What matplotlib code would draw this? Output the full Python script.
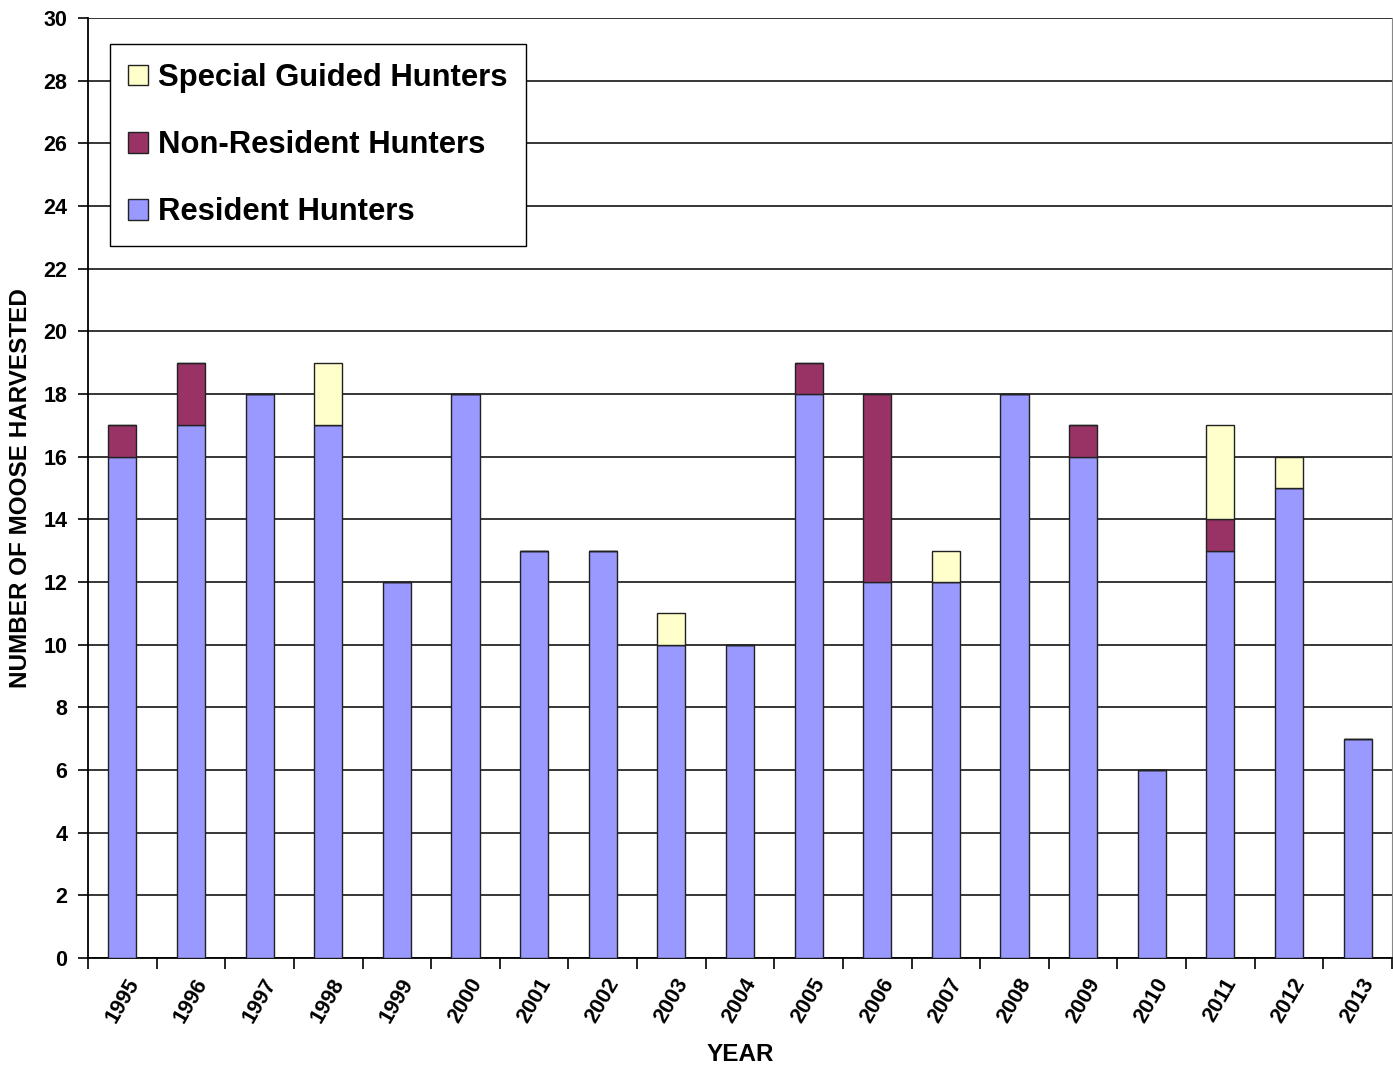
import numpy as np
import matplotlib.pyplot as plt
from matplotlib.ticker import FixedLocator, NullFormatter

years = ["1995", "1996", "1997", "1998", "1999", "2000", "2001", "2002", "2003", "2004",
         "2005", "2006", "2007", "2008", "2009", "2010", "2011", "2012", "2013"]
resident = [16, 17, 18, 17, 12, 18, 13, 13, 10, 10, 18, 12, 12, 18, 16, 6, 13, 15, 7]
non_resident = [1, 2, 0, 0, 0, 0, 0, 0, 0, 0, 1, 6, 0, 0, 1, 0, 1, 0, 0]
special = [0, 0, 0, 2, 0, 0, 0, 0, 1, 0, 0, 0, 1, 0, 0, 0, 3, 1, 0]

plt.rcParams['font.family'] = ['Liberation Sans', 'DejaVu Sans']

fig = plt.figure(figsize=(13.93, 10.65), dpi=100)
ax = fig.add_axes([0.0632, 0.1005, 0.936, 0.8826])

x = np.arange(len(years))
res = np.array(resident)
non = np.array(non_resident)
spe = np.array(special)
w = 0.41
b1 = ax.bar(x, res, w, color='#9999FF', edgecolor='#222222', linewidth=1, zorder=3,
            label='Resident Hunters')
b2 = ax.bar(x, non, w, bottom=res, color='#993366', edgecolor='#222222', linewidth=1,
            zorder=3, label='Non-Resident Hunters')
b3 = ax.bar(x, spe, w, bottom=res + non, color='#FFFFCC', edgecolor='#222222', linewidth=1,
            zorder=3, label='Special Guided Hunters')

ax.set_xlim(-0.5, len(years) - 0.5)
ax.set_ylim(0, 30)
ax.set_yticks(range(0, 31, 2))
ax.yaxis.grid(True, color='black', linewidth=1.1, zorder=0)
ax.set_axisbelow(True)

ax.set_xticks(x)
ax.set_xticklabels(years, rotation=60, ha='center', fontsize=15.5, fontweight='bold')
ax.tick_params(axis='x', which='major', length=0, pad=12)
ax.xaxis.set_minor_locator(FixedLocator(np.arange(-0.5, len(years), 1.0)))
ax.xaxis.set_minor_formatter(NullFormatter())
ax.tick_params(axis='x', which='minor', length=8, width=1.2, direction='out')
ax.tick_params(axis='y', length=7, width=1.2, direction='out', labelsize=15.5, pad=8)
for lab in ax.get_yticklabels():
    lab.set_fontweight('bold')

for s in ['left', 'bottom']:
    ax.spines[s].set_linewidth(1.3)
ax.spines['top'].set_visible(False)
ax.spines['right'].set_color('#888888')

ax.set_xlabel('YEAR', fontsize=17.5, fontweight='bold', labelpad=12)
ax.set_ylabel('NUMBER OF MOOSE HARVESTED', fontsize=17.5, fontweight='bold', labelpad=8)

leg = ax.legend(handles=[b3, b2, b1], loc='upper left', bbox_to_anchor=(0.0165, 0.972),
                prop={'weight': 'bold', 'size': 22.3},
                frameon=True, fancybox=False, edgecolor='black', framealpha=1,
                handlelength=0.65, handleheight=0.65, handletextpad=0.3,
                labelspacing=1.2, borderpad=0.6, borderaxespad=0)
leg.get_frame().set_linewidth(1.0)
leg.set_zorder(5)

fig.savefig('out.png', dpi=100)
